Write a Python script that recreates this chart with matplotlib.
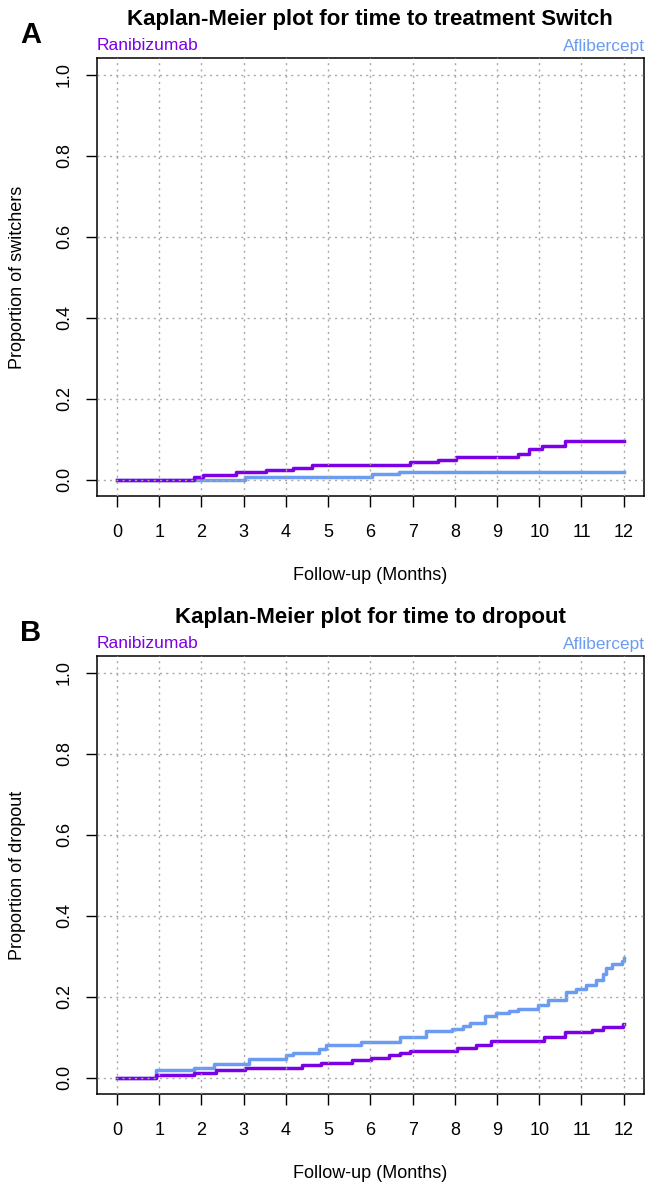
import numpy as np
import matplotlib
matplotlib.use("Agg")
import matplotlib.pyplot as plt

plt.rcParams['font.family'] = ['Liberation Sans', 'DejaVu Sans']

W, H = 646, 1183

col_rani = '#7B00E6'
col_afli = '#6C9CF2'

# panel A: time to treatment switch (months, cumulative proportion)
sw_rani_t = [0, 1.82, 2.04, 2.82, 3.52, 4.16, 4.61, 6.95, 7.6, 8.03, 9.5, 9.75, 10.07, 10.6, 12.0]
sw_rani_p = [0, 0.006, 0.012, 0.018, 0.025, 0.030, 0.0375, 0.044, 0.049, 0.056, 0.0625, 0.075, 0.0825, 0.096, 0.096]
sw_afli_t = [0, 3.04, 6.03, 6.69, 12.0]
sw_afli_p = [0, 0.006, 0.014, 0.020, 0.020]

# panel B: time to dropout
do_rani_t = [0, 0.93, 1.82, 2.34, 3.04, 4.39, 4.83, 5.57, 6.01, 6.45, 6.71, 6.93, 8.06, 8.5, 8.85,
             10.11, 10.6, 11.25, 11.51, 11.99, 12.0]
do_rani_p = [0, 0.0065, 0.012, 0.019, 0.0245, 0.031, 0.037, 0.043, 0.049, 0.0555, 0.061, 0.067, 0.073,
             0.082, 0.091, 0.100, 0.114, 0.118, 0.125, 0.133, 0.133]
do_afli_t = [0, 0.93, 1.82, 2.3, 3.13, 4.0, 4.17, 4.79, 4.96, 5.79, 6.71, 7.32, 7.93, 8.19, 8.37, 8.72,
             8.98, 9.28, 9.5, 9.98, 10.2, 10.64, 10.87, 11.1, 11.34, 11.5, 11.58, 11.73, 11.97, 12.0]
do_afli_p = [0, 0.019, 0.0245, 0.035, 0.047, 0.0555, 0.061, 0.072, 0.082, 0.088, 0.100, 0.115, 0.121,
             0.129, 0.135, 0.153, 0.160, 0.166, 0.170, 0.180, 0.192, 0.212, 0.220, 0.228, 0.241, 0.257,
             0.272, 0.280, 0.288, 0.295]

months = list(range(0, 13))
yticks = [0.0, 0.2, 0.4, 0.6, 0.8, 1.0]

fig = plt.figure(figsize=(W / 100, H / 100), dpi=100)


def fx(px):
    return px / W


def fy(py):
    return 1 - py / H


def km_panel(off, letter, title, ylab, rt, rp, at, ap):
    top, bot, left, right = 58.3 + off, 496 + off, 96.7, 644
    ax = fig.add_axes([fx(left), fy(bot), fx(right - left), (bot - top) / H])
    ax.step(at, ap, where='post', color=col_afli, lw=2.5, zorder=2)
    ax.step(rt, rp, where='post', color=col_rani, lw=2.5, zorder=3)
    ax.set_xlim(-0.48, 12.48)
    ax.set_ylim(-0.04, 1.04)
    ax.set_xticks(months)
    ax.set_yticks(yticks)
    ax.set_yticklabels([f'{v:.1f}' for v in yticks], rotation=90, va='center')
    for v in months:
        ax.axvline(v, color='#a8a8a8', lw=1.0, ls=(0, (1.5, 3)), zorder=4)
    for v in yticks:
        ax.axhline(v, color='#a8a8a8', lw=1.0, ls=(0, (1.5, 3)), zorder=4)
    ax.tick_params(axis='x', length=8, width=1.0, pad=12, labelsize=13)
    ax.tick_params(axis='y', length=8, width=1.0, pad=9, labelsize=13)
    for s in ax.spines.values():
        s.set_linewidth(1.1)
    fig.text(fx(370), fy(20 + off), title, ha='center', va='center', fontsize=16, fontweight='bold')
    fig.text(fx(31), fy(35 + off), letter, ha='center', va='center', fontsize=21, fontweight='bold')
    fig.text(fx(97), fy(46 + off), 'Ranibizumab', ha='left', va='center', fontsize=12.5, color=col_rani)
    fig.text(fx(645), fy(46 + off), 'Aflibercept', ha='right', va='center', fontsize=12.5, color=col_afli)
    fig.text(fx(18), fy((top + bot) / 2), ylab, rotation=90, ha='center', va='center', fontsize=13)
    fig.text(fx(370), fy(576 + off), 'Follow-up (Months)', ha='center', va='center', fontsize=13)
    return ax


km_panel(0, 'A', 'Kaplan-Meier plot for time to treatment Switch', 'Proportion of switchers',
         sw_rani_t, sw_rani_p, sw_afli_t, sw_afli_p)
km_panel(598, 'B', 'Kaplan-Meier plot for time to dropout', 'Proportion of dropout',
         do_rani_t, do_rani_p, do_afli_t, do_afli_p)

fig.savefig('out.png', dpi=100)
